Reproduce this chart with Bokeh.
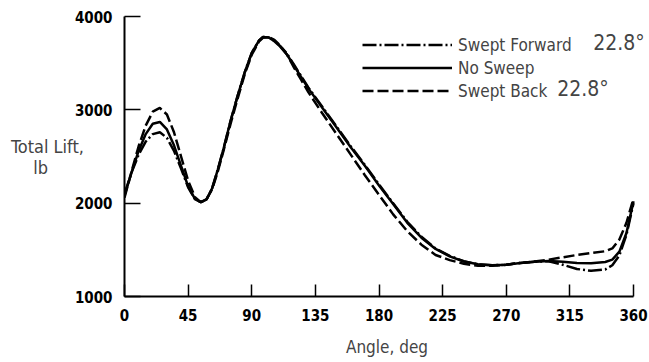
from bokeh.plotting import figure
from bokeh.models import FixedTicker, Label, Legend, LegendItem
from bokeh.embed import file_html
from bokeh.resources import INLINE

angle = [0, 5, 10, 15, 20, 25, 30, 35, 40, 45, 50, 54, 58, 62, 66, 70, 75, 80, 85, 90, 95,
         98, 102, 106, 110, 115, 120, 125, 130, 140, 150, 160, 170, 180, 190, 200, 210,
         220, 230, 240, 250, 260, 270, 280, 290, 300, 310, 320, 330, 340, 345, 350, 355, 360]

no_sweep = [2080, 2330, 2560, 2740, 2850, 2870, 2790, 2620, 2400, 2180, 2040, 2010, 2040,
            2160, 2360, 2580, 2880, 3150, 3400, 3610, 3740, 3780, 3775, 3735, 3680, 3590,
            3470, 3350, 3230, 3020, 2810, 2600, 2400, 2190, 1990, 1790, 1630, 1510, 1430,
            1375, 1345, 1335, 1340, 1360, 1372, 1380, 1372, 1360, 1355, 1370, 1395, 1480,
            1680, 2020]

swept_back = [2060, 2340, 2610, 2830, 2980, 3020, 2950, 2760, 2500, 2240, 2060, 2010, 2040,
              2150, 2340, 2560, 2850, 3120, 3380, 3590, 3730, 3775, 3780, 3750, 3690, 3590,
              3450, 3320, 3190, 2960, 2740, 2520, 2300, 2090, 1880, 1700, 1555, 1445, 1390,
              1350, 1330, 1330, 1340, 1360, 1375, 1395, 1420, 1445, 1465, 1485, 1515, 1610,
              1790, 2050]

swept_forward = [2100, 2330, 2520, 2660, 2740, 2760, 2700, 2560, 2370, 2170, 2040, 2010, 2040,
                 2160, 2360, 2580, 2880, 3150, 3400, 3610, 3740, 3780, 3775, 3740, 3685, 3600,
                 3480, 3360, 3240, 3030, 2820, 2610, 2410, 2200, 2000, 1800, 1640, 1515, 1435,
                 1378, 1345, 1335, 1340, 1360, 1372, 1378, 1340, 1295, 1275, 1290, 1335, 1440,
                 1660, 2000]

x_ticks = [0, 45, 90, 135, 180, 225, 270, 315, 360]
y_ticks = [1000, 2000, 3000, 4000]

FONT = "Liberation Sans Narrow, DejaVu Sans Condensed, sans-serif"

p = figure(width=649, height=362, output_backend="svg", toolbar_location=None,
           x_range=(0, 371.3), y_range=(1000, 4000),
           min_border_left=124, min_border_right=0, min_border_top=16, min_border_bottom=66)
p.outline_line_color = None
p.xgrid.visible = False
p.ygrid.visible = False
p.background_fill_color = "white"
p.border_fill_color = "white"

for ax in (p.xaxis[0], p.yaxis[0]):
    ax.axis_line_width = 2
    ax.axis_line_color = "black"
    ax.major_tick_line_width = 1.5
    ax.major_tick_line_color = "black"
    ax.major_tick_out = 0
    ax.minor_tick_line_color = None
    ax.major_label_text_font = FONT
    ax.major_label_text_font_size = "15px"
    ax.major_label_text_font_style = "bold"
    ax.major_label_text_color = "black"

p.xaxis.ticker = FixedTicker(ticks=x_ticks)
p.yaxis.ticker = FixedTicker(ticks=y_ticks)
p.xaxis.bounds = (0, 360)
p.xaxis.major_tick_in = 12
p.yaxis.major_tick_in = 16
p.xaxis.major_label_standoff = 12
p.yaxis.major_label_standoff = 12

p.xaxis.axis_label = "Angle, deg"
p.xaxis.axis_label_text_font = FONT
p.xaxis.axis_label_text_font_size = "17px"
p.xaxis.axis_label_text_font_style = "normal"
p.xaxis.axis_label_standoff = 13

p.yaxis.axis_label = "Total Lift,\nlb" + "\u00a0" * 7
p.yaxis.axis_label_orientation = "horizontal"
p.yaxis.axis_label_text_font = FONT
p.yaxis.axis_label_text_font_size = "18px"
p.yaxis.axis_label_text_font_style = "normal"
p.yaxis.axis_label_text_line_height = 1.0
p.yaxis.axis_label_standoff = -12

r_fwd = p.line(angle, swept_forward, line_color="black", line_width=2.5, line_dash="14 3 2 3")
r_none = p.line(angle, no_sweep, line_color="black", line_width=2.5)
r_back = p.line(angle, swept_back, line_color="black", line_width=2.5, line_dash="11 4")

legend = Legend(items=[LegendItem(label="Swept Forward", renderers=[r_fwd]),
                       LegendItem(label="No Sweep", renderers=[r_none]),
                       LegendItem(label="Swept Back", renderers=[r_back])],
                location=(238, 194), orientation="vertical",
                glyph_width=90, glyph_height=23, label_height=23, spacing=0,
                padding=0, margin=0, label_standoff=6,
                border_line_color=None, background_fill_alpha=0,
                label_text_font=FONT, label_text_font_size="17px")
p.add_layout(legend, "center")

p.add_layout(Label(x=331.5, y=3720, text="22.8°", text_font=FONT, text_font_size="21px",
                   text_baseline="middle", text_align="left"))
p.add_layout(Label(x=306, y=3225, text="22.8°", text_font=FONT, text_font_size="21px",
                   text_baseline="middle", text_align="left"))

open("out.html", "w").write(file_html(p, INLINE))
